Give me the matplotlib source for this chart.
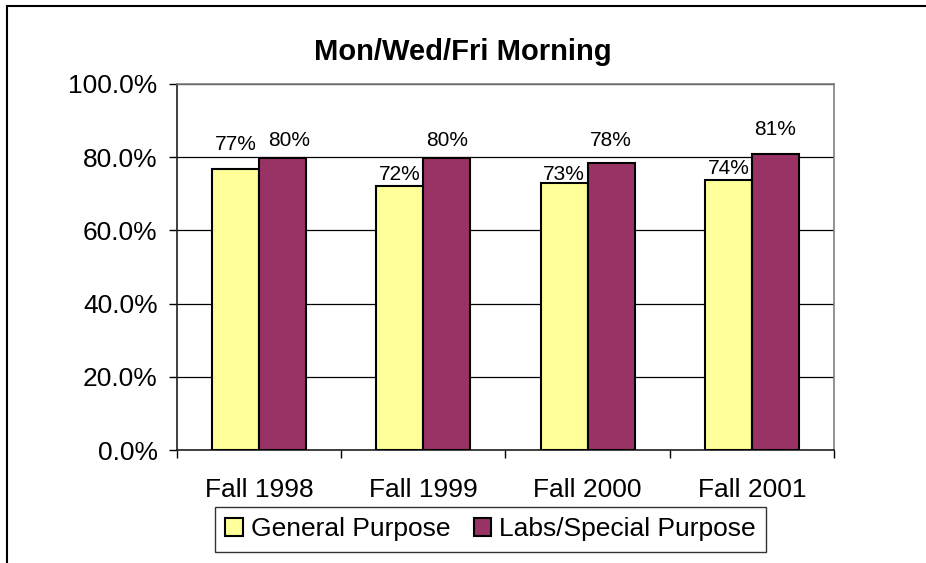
import numpy as np
import matplotlib.pyplot as plt
from matplotlib.lines import Line2D
from matplotlib.ticker import FuncFormatter, MultipleLocator

plt.rcParams['font.family'] = ['Liberation Sans', 'DejaVu Sans']

# data
terms = ['Fall 1998', 'Fall 1999', 'Fall 2000', 'Fall 2001']
general = [0.769, 0.722, 0.729, 0.738]
labs = [0.797, 0.797, 0.783, 0.809]
series_names = ['General Purpose', 'Labs/Special Purpose']

# label offsets above bar tops (pixels), mimic excel's placement
gen_dy = [24, 11, 9, 11]
labs_dy = [18, 18, 23, 24]
labs_dx = [7, 0, 0, 0]

fig = plt.figure(figsize=(9.26, 5.63), dpi=100)
ax = fig.add_axes([0.1911, 0.2007, 0.7095, 0.6501])

x = np.arange(len(terms))
w = 0.286
b1 = ax.bar(x - w / 2, general, w, color='#FFFF99', edgecolor='black', linewidth=1.5,
            label=series_names[0], zorder=3)
b2 = ax.bar(x + w / 2, labs, w, color='#993366', edgecolor='black', linewidth=1.5,
            label=series_names[1], zorder=3)

for i in range(len(terms)):
    ax.annotate(f'{general[i]:.0%}', (x[i] - w / 2, general[i]), xytext=(0, gen_dy[i]),
                textcoords='offset pixels', ha='center', va='center', fontsize=15)
    ax.annotate(f'{labs[i]:.0%}', (x[i] + w / 2, labs[i]), xytext=(labs_dx[i], labs_dy[i]),
                textcoords='offset pixels', ha='center', va='center', fontsize=15)

ax.set_xlim(-0.5, len(terms) - 0.5)
ax.set_ylim(0, 1.0)
ax.yaxis.set_major_locator(MultipleLocator(0.2))
ax.yaxis.set_major_formatter(FuncFormatter(lambda v, p: f'{v * 100:.1f}%'))
ax.yaxis.grid(True, color='black', linewidth=0.9, zorder=0)

ax.set_xticks(x)
ax.set_xticklabels(terms)
ax.set_xticks(np.arange(len(terms) + 1) - 0.5, minor=True)
ax.tick_params(axis='x', which='major', length=0, pad=20, labelsize=19)
ax.tick_params(axis='x', which='minor', length=6, width=1, direction='out')
ax.tick_params(axis='y', length=6, width=1, direction='out', pad=8, labelsize=19)

for s in ['top', 'right']:
    ax.spines[s].set_color('#808080')
    ax.spines[s].set_linewidth(1.2)
for s in ['left', 'bottom']:
    ax.spines[s].set_color('#202020')
    ax.spines[s].set_linewidth(1.2)

fig.text(0.4995, 0.8934, 'Mon/Wed/Fri Morning', ha='center', va='baseline',
         fontsize=21, fontweight='bold')

leg = fig.legend(handles=[b1, b2], loc='center', bbox_to_anchor=(0.5297, 0.0597), ncol=2,
                 fontsize=19, frameon=True, fancybox=False, edgecolor='black',
                 handlelength=0.65, handleheight=0.65, handletextpad=0.3,
                 columnspacing=0.9, borderpad=0.4, borderaxespad=0)
leg.get_frame().set_linewidth(1.0)

# outer chart border (only left and top visible)
fig.add_artist(Line2D([7 / 926, 7 / 926], [0, 1 - 6 / 563], color='black', linewidth=1.5))
fig.add_artist(Line2D([7 / 926, 1], [1 - 6 / 563, 1 - 6 / 563], color='black', linewidth=1.5))

plt.savefig('out.png', dpi=100)
